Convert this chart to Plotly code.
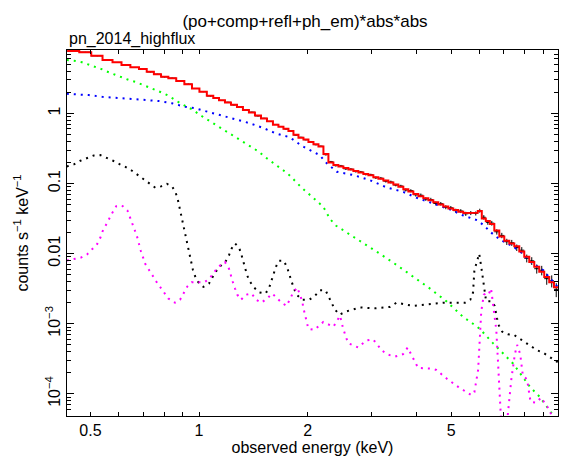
import numpy as np
import plotly.graph_objects as go

# ---------------- data ----------------
energy = [0.448, 0.484, 0.522, 0.559, 0.593, 0.627, 0.664, 0.700, 0.733, 0.767, 0.803, 0.842,
          0.888, 0.934, 0.979, 1.027, 1.076,
          1.115, 1.158, 1.203, 1.250, 1.299, 1.349, 1.402, 1.457, 1.514, 1.573, 1.634,
          1.687, 1.742, 1.798, 1.857, 1.917, 1.979, 2.043, 2.110, 2.178, 2.248, 2.321, 2.396,
          2.474, 2.554, 2.637, 2.722, 2.810, 2.901, 2.995, 3.093, 3.193, 3.296, 3.403, 3.513,
          3.627, 3.744, 3.866, 3.991,
          4.121, 4.254, 4.392, 4.534, 4.681, 4.833, 4.990, 5.151, 5.318, 5.490, 5.668, 5.851,
          6.003, 6.159, 6.318, 6.482, 6.692, 6.909, 7.133, 7.363, 7.602, 7.848, 8.102, 8.365,
          8.636, 8.915, 9.204, 9.502, 9.779]

model = [7.74, 7.41, 6.63, 5.76, 5.34, 4.89, 4.53, 4.29, 3.92, 3.60, 3.33, 3.16,
         2.89, 2.59, 2.27, 2.03, 1.78,
         1.66, 1.54, 1.43, 1.33, 1.23, 1.12, 1.03, 0.93, 0.845, 0.77, 0.69,
         0.645, 0.605, 0.560, 0.495, 0.450, 0.425, 0.392, 0.362, 0.336, 0.263, 0.199, 0.183,
         0.175, 0.166, 0.158, 0.151, 0.144, 0.137, 0.131, 0.123, 0.117, 0.110, 0.103, 0.097,
         0.090, 0.083, 0.077, 0.071,
         0.066, 0.0617, 0.0576, 0.054, 0.0503, 0.0471, 0.0441, 0.0419, 0.0397, 0.0381, 0.0375, 0.0384,
         0.0404, 0.0316, 0.0291, 0.0264, 0.0213, 0.0175, 0.0153, 0.0139, 0.0128, 0.0107, 0.0090, 0.0076,
         0.0065, 0.0055, 0.00466, 0.00392, 0.00333]

counts = [7.70, 7.45, 6.60, 5.79, 5.31, 4.92, 4.50, 4.31, 3.90, 3.62, 3.31, 3.18,
          2.87, 2.61, 2.26, 2.04, 1.77,
          1.67, 1.53, 1.44, 1.32, 1.24, 1.11, 1.04, 0.92, 0.85, 0.765, 0.695,
          0.650, 0.600, 0.566, 0.490, 0.455, 0.421, 0.396, 0.358, 0.340, 0.258, 0.204, 0.180,
          0.178, 0.162, 0.160, 0.148, 0.146, 0.135, 0.133, 0.121, 0.119, 0.108, 0.105, 0.095,
          0.092, 0.081, 0.079, 0.069,
          0.068, 0.060, 0.059, 0.052, 0.0515, 0.046, 0.045, 0.041, 0.0405, 0.037, 0.038, 0.0375,
          0.041, 0.033, 0.028, 0.0272, 0.0205, 0.0182, 0.0148, 0.0143, 0.0122, 0.0112, 0.0086, 0.0079,
          0.0061, 0.0058, 0.0044, 0.0041, 0.0031]

count_err = [0.06, 0.06, 0.05, 0.05, 0.04, 0.04, 0.04, 0.04, 0.035, 0.03, 0.03, 0.03,
             0.03, 0.025, 0.025, 0.02, 0.02,
             0.02, 0.02, 0.018, 0.017, 0.016, 0.015, 0.014, 0.013, 0.012, 0.011, 0.010,
             0.010, 0.010, 0.009, 0.009, 0.008, 0.008, 0.008, 0.007, 0.007, 0.007, 0.006, 0.006,
             0.006, 0.006, 0.006, 0.005, 0.005, 0.005, 0.005, 0.005, 0.005, 0.005, 0.005, 0.004,
             0.004, 0.004, 0.004, 0.004,
             0.004, 0.0035, 0.0035, 0.0032, 0.003, 0.003, 0.0028, 0.0027, 0.0026, 0.0025, 0.0025, 0.0025,
             0.0027, 0.0024, 0.0022, 0.0021, 0.0018, 0.0016, 0.0015, 0.0014, 0.0013, 0.0012, 0.0011, 0.0010,
             0.0009, 0.0009, 0.0008, 0.0008, 0.0007]

# powerlaw component (blue)
po_e = [0.43, 0.45, 0.495, 0.539, 0.593, 0.652, 0.71, 0.773, 0.842, 0.916, 0.975, 1.061, 1.156,
        1.264, 1.378, 1.502, 1.634, 1.786, 1.926, 2.16, 2.26, 2.41, 2.68, 2.97, 3.31, 3.68, 4.0,
        4.5, 5.0, 5.4, 5.9, 6.15, 6.45, 6.85, 7.4, 7.8, 8.3, 9.0, 9.9]
po_v = [1.90, 1.88, 1.82, 1.72, 1.64, 1.60, 1.55, 1.50, 1.39, 1.24, 1.18, 1.05, 0.924,
        0.82, 0.727, 0.623, 0.518, 0.455, 0.345, 0.254, 0.194, 0.147, 0.132, 0.112, 0.088, 0.076, 0.063,
        0.051, 0.042, 0.035, 0.030, 0.0255, 0.020, 0.0157, 0.0128, 0.0105, 0.0076, 0.0058, 0.0033]

# comptonisation component (green)
comp_e = [0.43, 0.45, 0.474, 0.516, 0.539, 0.562, 0.586, 0.612, 0.639, 0.666, 0.695, 0.726, 0.757,
          0.79, 0.824, 0.851, 0.888, 0.926, 0.967, 0.996, 1.034, 1.077, 1.12, 1.163, 1.209, 1.258,
          1.307, 1.358, 1.411, 1.466, 1.517, 1.573, 1.63, 1.695, 1.76, 1.818, 1.877, 1.926, 2.07,
          2.21, 2.26, 2.31, 2.40, 2.48, 2.56, 2.85, 3.17, 3.53, 3.92, 4.36, 4.85, 5.39, 5.75, 6.0,
          6.53, 7.43, 8.27, 8.8, 9.5, 9.9]
comp_v = [5.75, 5.63, 5.34, 4.62, 4.24, 3.85, 3.52, 3.26, 2.99, 2.82, 2.59, 2.35, 2.15,
          1.97, 1.78, 1.58, 1.39, 1.24, 1.11, 0.977, 0.866, 0.776, 0.68, 0.603, 0.528, 0.464,
          0.416, 0.365, 0.323, 0.284, 0.243, 0.211, 0.183, 0.160, 0.139, 0.118, 0.100, 0.087, 0.063,
          0.0465, 0.038, 0.031, 0.025, 0.0225, 0.020, 0.014, 0.010, 0.0069, 0.0047, 0.0032, 0.0021, 0.00126, 0.0010, 0.00085,
          0.00053, 0.00027, 0.000126, 0.000091, 0.000053, 0.000042]

# reflection component (black)
refl_e = [0.43, 0.45, 0.469, 0.49, 0.511, 0.533, 0.556, 0.578, 0.602, 0.625, 0.652, 0.678, 0.70,
          0.728, 0.757, 0.785, 0.815, 0.842, 0.86, 0.873, 0.882, 0.891, 0.901, 0.91, 0.919, 0.926,
          0.934, 0.94, 0.95, 0.961, 0.975, 0.996, 1.028, 1.066, 1.089, 1.115, 1.148, 1.186, 1.211,
          1.232, 1.258, 1.291, 1.31, 1.327, 1.343, 1.36, 1.384, 1.42, 1.469, 1.53, 1.566, 1.589,
          1.613, 1.634, 1.665, 1.719, 1.756, 1.778, 1.806, 1.833, 1.865, 1.933, 2.02, 2.095, 2.163,
          2.243, 2.29, 2.331, 2.38, 2.45, 2.56, 2.79, 3.09, 3.38, 3.53, 3.92, 4.36, 4.75, 5.23,
          5.46, 5.65, 5.75, 5.8, 5.98, 6.06, 6.2, 6.25, 6.47, 6.6, 6.7, 6.78, 6.93, 7.18, 7.45,
          8.05, 8.65, 8.98, 9.34, 9.7, 9.9]
refl_v = [0.175, 0.187, 0.211, 0.233, 0.251, 0.254, 0.233, 0.211, 0.189, 0.173, 0.152, 0.132, 0.118,
          0.100, 0.087, 0.091, 0.099, 0.091, 0.076, 0.060, 0.0465, 0.0375, 0.030, 0.024, 0.0188, 0.0147,
          0.0119, 0.0096, 0.0075, 0.0060, 0.0048, 0.0039, 0.00336, 0.00376, 0.00457, 0.0056, 0.0067, 0.0078, 0.0095,
          0.0119, 0.0140, 0.0123, 0.0098, 0.0076, 0.0061, 0.0049, 0.0040, 0.0033, 0.0028, 0.0027, 0.0033, 0.0041,
          0.0052, 0.0065, 0.0079, 0.0079, 0.0063, 0.0050, 0.0040, 0.0032, 0.0026, 0.0022, 0.0022, 0.0025, 0.0030,
          0.0030, 0.0024, 0.0020, 0.0016, 0.00135, 0.0015, 0.00171, 0.00166, 0.00174, 0.0020, 0.0018, 0.0019, 0.0020, 0.0020,
          0.0020, 0.0022, 0.0028, 0.0058, 0.0100, 0.0065, 0.0025, 0.0021, 0.0021, 0.0018, 0.0012, 0.00095, 0.00077, 0.00071, 0.00070,
          0.00054, 0.00042, 0.00039, 0.00034, 0.00030, 0.00028]

# photoionised emission component (magenta)
phem_e = [0.43, 0.45, 0.471, 0.49, 0.505, 0.522, 0.533, 0.541, 0.553, 0.565, 0.577, 0.59, 0.602,
          0.614, 0.633, 0.643, 0.655, 0.664, 0.674, 0.681, 0.69, 0.70, 0.71, 0.764, 0.822, 0.858,
          0.886, 0.909, 0.928, 0.954, 0.996, 1.034, 1.068, 1.095, 1.131, 1.173, 1.18, 1.211, 1.224,
          1.24, 1.258, 1.277, 1.307, 1.35, 1.40, 1.439, 1.488, 1.546, 1.596, 1.651, 1.695, 1.749,
          1.786, 1.825, 1.872, 1.905, 1.933, 1.946, 1.966, 2.01, 2.09, 2.21, 2.36, 2.46, 2.51, 2.59,
          2.76, 2.91, 3.04, 3.21, 3.31, 3.49, 3.68, 3.79, 3.87, 4.05, 4.41, 4.55, 4.85, 5.23, 5.69,
          5.8, 5.94, 6.0, 6.06, 6.16, 6.25, 6.35, 6.45, 6.51, 6.67, 6.74, 6.83, 6.9, 7.05, 7.18, 7.34,
          7.51, 7.62, 7.77, 7.9, 8.12, 8.3, 8.61, 8.88, 9.15, 9.4, 9.7]
phem_v = [0.0080, 0.0083, 0.0088, 0.0098, 0.0116, 0.0137, 0.0170, 0.0211, 0.0260, 0.0324, 0.0394, 0.0476, 0.0490,
          0.0476, 0.0413, 0.0335, 0.0266, 0.0214, 0.0172, 0.0137, 0.0109, 0.0088, 0.0071, 0.0039, 0.0023, 0.0020,
          0.0022, 0.0028, 0.0034, 0.0039, 0.0039, 0.0039, 0.0044, 0.0053, 0.0065, 0.0074, 0.0076, 0.0061, 0.0049,
          0.0040, 0.0032, 0.0026, 0.0022, 0.0026, 0.0027, 0.0022, 0.0020, 0.0023, 0.0027, 0.0023, 0.0020, 0.0018,
          0.0022, 0.0028, 0.0033, 0.0026, 0.0021, 0.0017, 0.00133, 0.00085, 0.00082, 0.00106, 0.00091, 0.0013, 0.00085, 0.00053,
          0.00046, 0.00058, 0.00060, 0.00042, 0.00037, 0.00034, 0.00037, 0.00046, 0.00037, 0.000235, 0.00023, 0.00022, 0.000167, 0.000126, 0.000096,
          0.000106, 0.00022, 0.00069, 0.0015, 0.0026, 0.0027, 0.0026, 0.0032, 0.0022, 0.00082, 0.00030, 0.00008, 0.00003, 0.00002, 0.000053, 0.00016,
          0.00037, 0.00050, 0.00037, 0.000185, 0.00016, 0.000077, 0.000075, 0.000089, 0.00007, 0.000058, 0.00003]

x_tick_vals = [0.5, 1, 2, 5]
x_tick_text = ["0.5", "1", "2", "5"]
y_tick_vals = [1e-4, 1e-3, 0.01, 0.1, 1]
y_tick_text = ["10<sup>\u22124</sup>", "10<sup>\u22123</sup>", "0.01", "0.1", "1"]

# ---------------- derived bin edges ----------------
logE = np.log10(np.array(energy))
mid = (logE[1:] + logE[:-1]) / 2
lo = np.concatenate([[2 * logE[0] - mid[0]], mid])
hi = np.concatenate([mid, [2 * logE[-1] - mid[-1]]])
e_lo = 10 ** lo
e_hi = 10 ** hi
step_x = np.column_stack([e_lo, e_hi]).ravel()
step_y = np.repeat(np.array(model), 2)

FONT = "Liberation Sans, Arial, Helvetica, sans-serif"
dotted = "2px,5px"

fig = go.Figure()
fig.add_trace(go.Scatter(
    x=energy, y=counts, mode="markers",
    marker=dict(size=1, color="black"),
    error_x=dict(type="data", symmetric=False, array=e_hi - np.array(energy),
                 arrayminus=np.array(energy) - e_lo, color="black", thickness=1, width=0),
    error_y=dict(type="data", array=count_err, color="black", thickness=1, width=0),
    showlegend=False, hoverinfo="skip"))

for xs, ys, col in [(po_e, po_v, "#0000ff"), (comp_e, comp_v, "#00ff00"),
                    (refl_e, refl_v, "#000000"), (phem_e, phem_v, "#ff00ff")]:
    fig.add_trace(go.Scatter(x=xs, y=ys, mode="lines",
                             line=dict(color=col, width=2, dash=dotted),
                             showlegend=False, hoverinfo="skip"))

fig.add_trace(go.Scatter(x=step_x, y=step_y, mode="lines",
                         line=dict(color="#ff0000", width=2),
                         showlegend=False, hoverinfo="skip"))

x_range = [np.log10(0.4306), np.log10(9.89)]
y_range = [np.log10(4.85e-5), np.log10(8.0)]

x_minor = [0.6, 0.7, 0.8, 0.9, 3, 4, 6, 7, 8, 9]
y_minor = [m * 10.0 ** k for k in range(-5, 1) for m in range(2, 10)]

fig.update_layout(
    width=563, height=456,
    margin=dict(l=67, r=5, t=50, b=40, autoexpand=False),
    paper_bgcolor="white", plot_bgcolor="white",
    font=dict(family=FONT, size=16, color="black"),
    title=dict(text="(po+comp+refl+ph_em)*abs*abs", x=305 / 563, xanchor="center",
               y=1 - 21 / 456, yanchor="middle", yref="container",
               font=dict(size=17, family=FONT, color="black")),
    xaxis=dict(type="log", range=x_range, showgrid=False, zeroline=False, automargin=False,
               showline=True, linecolor="black", linewidth=1, mirror="ticks",
               ticks="inside", ticklen=4, tickcolor="black", tickwidth=1,
               tickvals=x_tick_vals, ticktext=x_tick_text,
               minor=dict(ticks="inside", ticklen=4, tickvals=x_minor, tickcolor="black", tickwidth=1, showgrid=False),
               title=dict(text="observed energy (keV)", standoff=3,
                          font=dict(size=16, family=FONT, color="black")),
               tickfont=dict(size=16, family=FONT, color="black")),
    xaxis2=dict(type="log", range=x_range, overlaying="x", anchor="y", side="bottom", automargin=False,
                showgrid=False, zeroline=False, showline=True, linecolor="black", linewidth=1,
                mirror="ticks", ticks="inside", ticklen=7, tickcolor="black", tickwidth=1,
                tickvals=[1], showticklabels=False),
    yaxis=dict(type="log", range=y_range, showgrid=False, zeroline=False, automargin=False,
               showline=True, linecolor="black", linewidth=1, mirror="ticks",
               ticks="inside", ticklen=7, tickcolor="black", tickwidth=1,
               tickvals=y_tick_vals, ticktext=y_tick_text, tickangle=-90,
               minor=dict(ticks="inside", ticklen=4, tickvals=y_minor, tickcolor="black", tickwidth=1, showgrid=False),
               title=dict(text="counts s<sup>\u22121</sup> keV<sup>\u22121</sup>", standoff=10,
                          font=dict(size=16, family=FONT, color="black")),
               tickfont=dict(size=16, family=FONT, color="black")),
    annotations=[dict(text="pn_2014_highflux", xref="paper", yref="paper", x=0, y=1,
                      xanchor="left", yanchor="bottom", showarrow=False, yshift=0,
                      font=dict(size=16, family=FONT, color="black"))],
)

fig.write_html("out.html", config={"displayModeBar": False},
               post_script="document.body.style.margin='0px';")
